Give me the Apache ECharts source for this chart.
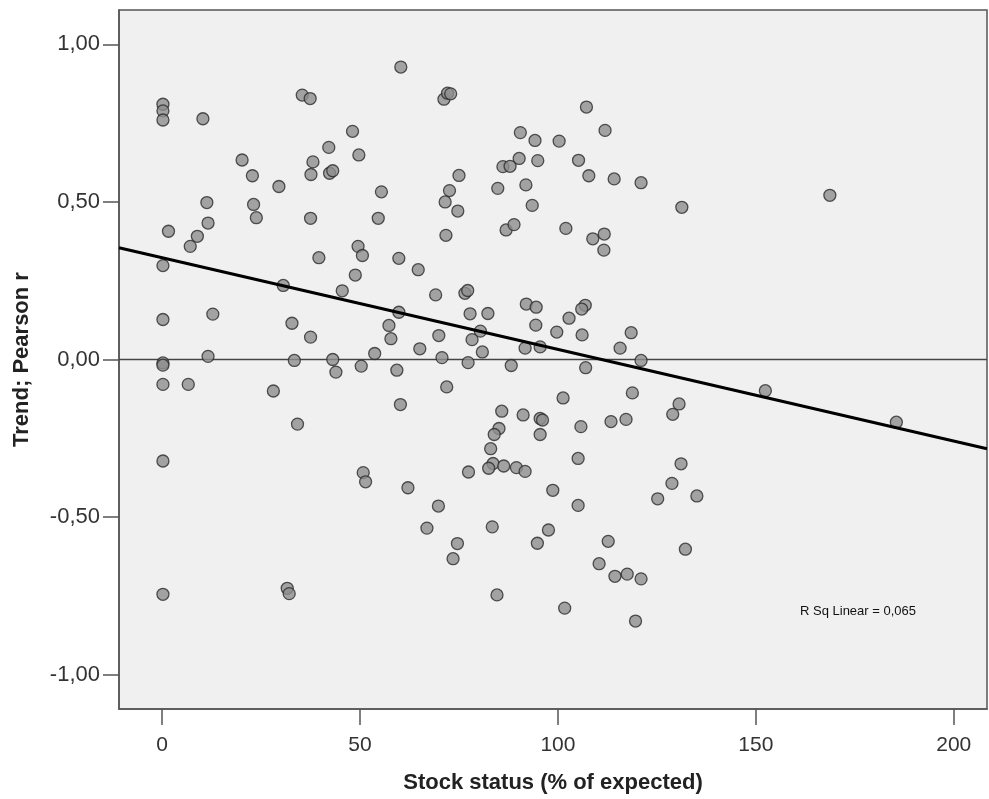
<!DOCTYPE html>
<html>
<head>
<meta charset="utf-8">
<script src="https://cdn.jsdelivr.net/npm/echarts@6/dist/echarts.min.js"></script>
<style>html,body{margin:0;padding:0;background:#fff;}#c{width:989px;height:799px;}</style>
</head>
<body>
<div id="c"></div>
<script>
// Stock status (% of expected)
const stockStatus = [
60.3,35.4,37.4,0.2,0.2,0.2,10.3,48.1,42.1,49.7,20.2,38.1,22.8,37.6,42.3,43.1,29.5,55.4,11.3,23.1,23.8,37.5,54.6,11.6,1.6,8.9,7.1,49.5,50.6,39.6,59.8,0.2,48.8,30.6,45.5,59.8,57.3,57.8,0.2,12.8,32.8,37.5,53.7,11.6,33.4,43.1,
0.2,0.2,43.9,50.3,59.3,0.2,6.6,28.1,60.2,34.2,0.2,50.8,51.4,62.1,0.2,31.6,32.1,
71.2,72.1,72.9,107.2,111.9,90.5,94.2,100.3,90.2,86.1,87.9,94.9,105.2,75,107.8,114.2,121,72.6,84.8,91.9,71.5,74.7,93.5,131.3,71.7,86.9,88.9,102,108.8,111.7,111.6,64.7,69.1,76.5,77.2,77.8,82.3,92,94.5,106.9,106,102.8,94.4,69.9,80.4,78.3,99.7,106.1,118.5,65.1,70.7,80.9,91.7,95.5,115.7,121,77.3,88.2,107,
71.9,101.3,118.8,130.6,129,85.8,91.2,95.5,96.1,105.8,113.4,117.2,85.1,83.9,95.5,83,105.1,131.1,83.6,82.5,86.3,89.5,91.7,77.4,128.8,135.1,125.2,98.7,69.8,105.1,66.9,83.4,97.6,74.6,94.8,112.7,132.2,73.5,110.4,114.4,117.5,121,84.6,101.7,119.6,
168.7,152.4,185.5
];
// Trend; Pearson r
const trendR = [
0.928,0.839,0.828,0.81,0.789,0.76,0.764,0.724,0.673,0.649,0.633,0.627,0.583,0.587,0.591,0.599,0.549,0.532,0.498,0.492,0.45,0.448,0.448,0.433,0.407,0.391,0.359,0.359,0.33,0.323,0.321,0.298,0.268,0.235,0.218,0.15,0.108,0.066,0.127,0.144,0.115,0.071,0.019,0.01,-0.003,0.0,
-0.011,-0.018,-0.04,-0.021,-0.034,-0.079,-0.079,-0.1,-0.143,-0.205,-0.322,-0.359,-0.388,-0.407,-0.745,-0.726,-0.743,
0.826,0.845,0.843,0.801,0.727,0.72,0.695,0.693,0.638,0.612,0.613,0.631,0.632,0.584,0.583,0.573,0.561,0.536,0.543,0.554,0.5,0.471,0.489,0.483,0.394,0.411,0.428,0.416,0.383,0.398,0.347,0.285,0.205,0.21,0.219,0.145,0.146,0.176,0.166,0.172,0.16,0.131,0.109,0.076,0.09,0.063,0.087,0.078,0.085,0.034,0.006,0.024,0.036,0.04,0.036,-0.003,-0.01,-0.019,-0.026,
-0.087,-0.122,-0.106,-0.141,-0.174,-0.164,-0.176,-0.187,-0.192,-0.213,-0.197,-0.19,-0.219,-0.238,-0.238,-0.283,-0.314,-0.331,-0.33,-0.345,-0.338,-0.343,-0.355,-0.357,-0.393,-0.433,-0.442,-0.415,-0.465,-0.463,-0.535,-0.531,-0.541,-0.584,-0.583,-0.577,-0.602,-0.632,-0.648,-0.688,-0.681,-0.696,-0.747,-0.789,-0.83,
0.521,-0.099,-0.199
];
const xTicks = [0, 50, 100, 150, 200];
const yTicks = [-1, -0.5, 0, 0.5, 1];
const xRange = [-10.9, 208.4];
const yRange = [-1.109, 1.109];
const fitIntercept = 0.323;
const fitSlope = -0.00291;
const rSqText = 'R Sq Linear = 0,065';

const points = stockStatus.map((x, i) => [x, trendR[i]]);
const fitLine = xRange.map(x => [x, fitIntercept + fitSlope * x]);

const chart = echarts.init(document.getElementById('c'), null, {renderer: 'canvas'});
const font = 'Liberation Sans, Arial, sans-serif';
chart.setOption({
  animation: false,
  backgroundColor: '#ffffff',
  textStyle: {fontFamily: font},
  grid: {left: 119, top: 10, width: 868, height: 700, show: true, backgroundColor: '#f0f0f0', borderColor: '#555555', borderWidth: 1.5},
  xAxis: {
    type: 'value', min: xRange[0], max: xRange[1],
    name: 'Stock status (% of expected)', nameLocation: 'middle', nameGap: 63,
    nameTextStyle: {fontFamily: font, fontSize: 22, fontWeight: 'bold', color: '#222'},
    axisLine: {show: true, onZero: false, lineStyle: {color: '#555', width: 1.5}},
    axisTick: {show: true, inside: false, length: 16, customValues: xTicks, lineStyle: {color: '#555', width: 1.5}},
    axisLabel: {customValues: xTicks, margin: 26, fontSize: 21, color: '#333', fontFamily: font},
    splitLine: {show: false}
  },
  yAxis: {
    type: 'value', min: yRange[0], max: yRange[1],
    name: 'Trend; Pearson r', nameLocation: 'middle', nameGap: 86, nameRotate: 90,
    nameTextStyle: {fontFamily: font, fontSize: 22, fontWeight: 'bold', color: '#222'},
    axisLine: {show: true, onZero: false, lineStyle: {color: '#555', width: 1.5}},
    axisTick: {show: true, inside: false, length: 16, customValues: yTicks, lineStyle: {color: '#555', width: 1.5}},
    axisLabel: {customValues: yTicks, margin: 19, fontSize: 22, color: '#333', fontFamily: font,
      formatter: v => v.toFixed(2).replace('.', ',')},
    splitLine: {show: false}
  },
  series: [
    {
      type: 'line', data: [[xRange[0], 0], [xRange[1], 0]], symbol: 'none', silent: true,
      lineStyle: {color: '#444', width: 1.3}, z: 1
    },
    {
      type: 'scatter', data: points, symbol: 'circle', symbolSize: 12,
      itemStyle: {color: '#8f8f8f', borderColor: '#2b2b2b', borderWidth: 1.3}, z: 2
    },
    {
      type: 'line', data: fitLine, symbol: 'none', silent: true,
      lineStyle: {color: '#000', width: 3}, z: 3
    }
  ],
  graphic: [{
    type: 'text', left: 800, top: 605,
    style: {text: rSqText, fontFamily: font, fontSize: 13, fill: '#111'}
  }]
});
</script>
</body>
</html>
